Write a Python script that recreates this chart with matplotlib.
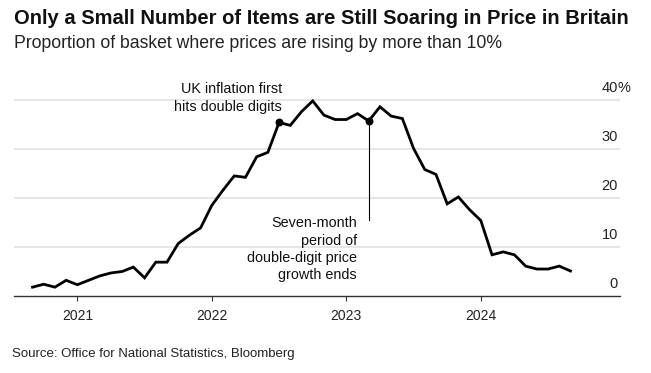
#Share of UK CPI basket with prices rising more than 10%

import numpy as np
import matplotlib.pyplot as plt

plt.rcParams['font.family'] = ['Liberation Sans', 'DejaVu Sans']

#Monthly values, Sep 2020 to Sep 2024
start_year = 2020
start_month = 9
share = [1.8, 2.4, 1.8, 3.2,
         2.3, 3.2, 4.1, 4.7, 5.0, 5.9, 3.7, 6.9, 6.9, 10.7, 12.4, 13.9,
         18.5, 21.6, 24.5, 24.2, 28.4, 29.3, 35.4, 34.8, 37.6, 39.8, 36.9, 36.0,
         36.0, 37.2, 35.7, 38.6, 36.7, 36.2, 30.1, 25.8, 24.8, 18.8, 20.2, 17.6,
         15.4, 8.4, 9.0, 8.4, 6.1, 5.5, 5.5, 6.1, 5.1]
x_years = [2021, 2022, 2023, 2024]
y_ticks = [0, 10, 20, 30, 40]

months = np.arange(len(share))
x = start_year + (start_month - 1 + months) / 12

fig = plt.figure(figsize=(6.51, 3.73), dpi=100)
ax = fig.add_axes([14/651, (373-296)/373, 606/651, 201/373])
ax.set_xlim(2020.529, 2025.035)
ax.set_ylim(0, 41)

for v in y_ticks[1:]:
    ax.axhline(v, color='#e2e2e2', lw=1.2, zorder=1)

ax.plot(x, share, color='black', lw=2.0, solid_joinstyle='miter', zorder=3, clip_on=False)

#Annotated points
i1 = 22  #Jul 2022
i2 = 30  #Mar 2023
ax.scatter([x[i1], x[i2]], [share[i1], share[i2]], s=22, color='black', zorder=4)
ax.plot([x[i2], x[i2]], [share[i2], 15.5], color='black', lw=0.8, zorder=2)

ax.text(2022.522, 40.4, 'UK inflation first\nhits double digits', ha='right', va='center',
        fontsize=10.4, color='#111', linespacing=1.3)
ax.text(2023.08, 9.5, 'Seven-month\nperiod of\ndouble-digit price\ngrowth ends', ha='right',
        va='center', fontsize=10.4, color='#111', linespacing=1.3)

#Right side value labels sitting above the gridlines
for v in y_ticks:
    ax.annotate(str(v), xy=(2025.02, v), xytext=(0, 6), textcoords='offset points',
                ha='right', va='baseline', fontsize=10.5, color='#222')
ax.annotate('%', xy=(2025.02, 40), xytext=(0, 6), textcoords='offset points',
            ha='left', va='baseline', fontsize=10.5, color='#222')

ax.set_xticks(x_years)
ax.set_xticklabels([str(y) for y in x_years])
ax.tick_params(axis='x', length=3.6, width=0.8, color='#333', labelsize=10, pad=6, labelcolor='#222')
ax.set_yticks([])
for s in ['left', 'right', 'top']:
    ax.spines[s].set_visible(False)
ax.spines['bottom'].set_color('#333')
ax.spines['bottom'].set_linewidth(1)

fig.text(14/651, 1 - 18/373, 'Only a Small Number of Items are Still Soaring in Price in Britain',
         ha='left', va='center', fontsize=14.5, fontweight='bold', color='#111')
fig.text(14/651, 1 - 44/373, 'Proportion of basket where prices are rising by more than 10%',
         ha='left', va='center', fontsize=12.7, color='#222')
fig.text(12/651, 1 - 354/373, 'Source: Office for National Statistics, Bloomberg',
         ha='left', va='center', fontsize=9.5, color='#222')

fig.savefig('out.png', dpi=100)
